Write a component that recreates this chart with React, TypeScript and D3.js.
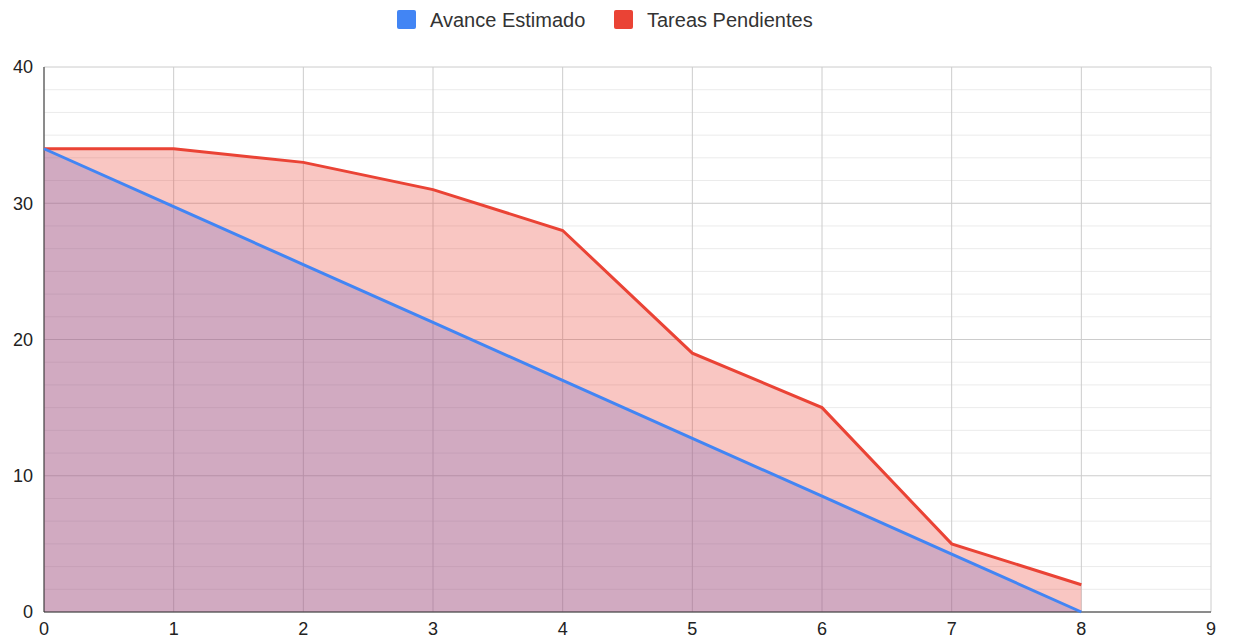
import React from "react";
import * as d3 from "d3";

const xValues = [0, 1, 2, 3, 4, 5, 6, 7, 8];
const avanceEstimado = [34, 29.75, 25.5, 21.25, 17, 12.75, 8.5, 4.25, 0];
const tareasPendientes = [34, 34, 33, 31, 28, 19, 15, 5, 2];
const xTicks = [0, 1, 2, 3, 4, 5, 6, 7, 8, 9];
const yTicks = [0, 10, 20, 30, 40];
const seriesNames = ["Avance Estimado", "Tareas Pendientes"];
const colors = ["#4285F4", "#EA4335"];

export default function App() {
  const W = 1233, H = 640;
  const x = d3.scaleLinear().domain([0, 9]).range([44, 1211]);
  const y = d3.scaleLinear().domain([0, 40]).range([612, 67]);
  const minor: number[] = [];
  for (let i = 0; i < 4; i++) for (let j = 1; j < 6; j++) minor.push(i * 10 + (j * 10) / 6);

  const area = d3.area<number>().x((_, i) => x(xValues[i])).y0(y(0)).y1((d) => y(d));
  const line = d3.line<number>().x((_, i) => x(xValues[i])).y((d) => y(d));
  const font = "'Liberation Sans', Arial, sans-serif";

  return (
    <svg width={W} height={H} style={{ position: "absolute", left: 0, top: 0 }}>
      <rect width={W} height={H} fill="#fff" />
      {minor.map((v) => (
        <line key={"m" + v} x1={x(0)} x2={x(9)} y1={y(v)} y2={y(v)} stroke="#ebebeb" strokeWidth={1} />
      ))}
      {yTicks.map((v) => (
        <line key={"y" + v} x1={x(0)} x2={x(9)} y1={y(v)} y2={y(v)} stroke="#cccccc" strokeWidth={1} />
      ))}
      {xTicks.map((v) => (
        <line key={"x" + v} x1={x(v)} x2={x(v)} y1={y(0)} y2={y(40)} stroke="#cccccc" strokeWidth={1} />
      ))}
      <path d={area(tareasPendientes) || ""} fill={colors[1]} fillOpacity={0.3} />
      <path d={area(avanceEstimado) || ""} fill="#736BC0" fillOpacity={0.3} />
      <line x1={x(0)} x2={x(0)} y1={y(0)} y2={y(40)} stroke="#333" strokeWidth={1} />
      <line x1={x(0)} x2={x(9)} y1={y(0)} y2={y(0)} stroke="#333" strokeWidth={1} />
      <path d={line(tareasPendientes) || ""} fill="none" stroke={colors[1]} strokeWidth={3} />
      <path d={line(avanceEstimado) || ""} fill="none" stroke={colors[0]} strokeWidth={3} />
      {yTicks.map((v) => (
        <text key={"yt" + v} x={33} y={y(v)} dy="0.35em" textAnchor="end" fontFamily={font} fontSize={18} fill="#222">
          {v}
        </text>
      ))}
      {xTicks.map((v) => (
        <text key={"xt" + v} x={x(v)} y={635} textAnchor="middle" fontFamily={font} fontSize={18} fill="#222">
          {v}
        </text>
      ))}
      {seriesNames.map((n, i) => {
        const lx = i === 0 ? 397 : 614;
        return (
          <g key={n}>
            <rect x={lx} y={10} width={19} height={19} rx={2} fill={colors[i]} />
            <text x={lx + 33} y={27} fontFamily={font} fontSize={20} fill="#333">
              {n}
            </text>
          </g>
        );
      })}
    </svg>
  );
}
